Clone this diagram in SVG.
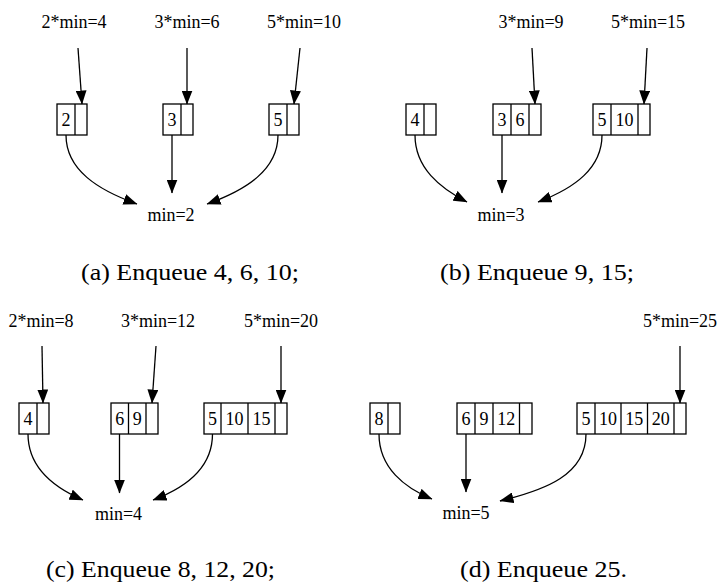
<svg xmlns="http://www.w3.org/2000/svg" width="719" height="585" viewBox="0 0 719 585">
<style>
.box{fill:none;stroke:#000;stroke-width:1.3}
.t{font-size:18px;fill:#000;text-anchor:middle}
.cap{font-size:24px;fill:#000}
.e{fill:none;stroke:#000;stroke-width:1.3;marker-end:url(#ah)}
</style>
<defs>
<marker id="ah" viewBox="0 0 14 11" refX="13.5" refY="5.5" markerWidth="14" markerHeight="11" markerUnits="userSpaceOnUse" orient="auto">
<path d="M0,0 L14,5.5 L0,11 z" fill="#000"/>
</marker>
</defs>
<rect width="719" height="585" fill="#fff"/>

<g id="connectors">
<path class="e" d="M78,48 L82,104"/>
<path class="e" d="M187,48 L187,104"/>
<path class="e" d="M300,48 L294,104"/>
<path class="e" d="M66,135 C66,170 98,190 137,204"/>
<path class="e" d="M172,135 L172,193"/>
<path class="e" d="M278,135 C278,170 246,190 207,204"/>
<path class="e" d="M532,48 L535,104"/>
<path class="e" d="M647,48 L644,104"/>
<path class="e" d="M415,135 C415,168 440,188 467,202"/>
<path class="e" d="M502,135 L502,193"/>
<path class="e" d="M602,135 C602,168 575,188 538,202"/>
<path class="e" d="M42,346 L43,403"/>
<path class="e" d="M156,346 L152,403"/>
<path class="e" d="M281,346 L281,403"/>
<path class="e" d="M28,434 C28,468 55,488 83,500"/>
<path class="e" d="M119.5,434 L119.5,493"/>
<path class="e" d="M212.5,434 C212.5,468 185,488 153,500"/>
<path class="e" d="M680,346 L680,403"/>
<path class="e" d="M379,434 C379,468 405,488 432,499"/>
<path class="e" d="M466,434 L466,492"/>
<path class="e" d="M586,434 C586,475 545,490 500,501"/>
</g>

<g font-family="Liberation Serif, Times New Roman, serif">
<g id="la1"><text class="t" x="74" y="28">2*min=4</text></g>
<g id="la2"><text class="t" x="187" y="28">3*min=6</text></g>
<g id="la3"><text class="t" x="304" y="28">5*min=10</text></g>
<g id="qa2"><rect class="box" x="57" y="104" width="30" height="31"/><line class="box" x1="75" y1="104" x2="75" y2="135"/><text class="t" x="66" y="126">2</text></g>
<g id="qa3"><rect class="box" x="163" y="104" width="30" height="31"/><line class="box" x1="181" y1="104" x2="181" y2="135"/><text class="t" x="172" y="126">3</text></g>
<g id="qa5"><rect class="box" x="269" y="104" width="30" height="31"/><line class="box" x1="287" y1="104" x2="287" y2="135"/><text class="t" x="278" y="126">5</text></g>
<g id="mina"><text class="t" x="171" y="221">min=2</text></g>
<g id="capa"><text class="cap" x="81" y="280" textLength="218" lengthAdjust="spacingAndGlyphs">(a) Enqueue 4, 6, 10;</text></g>

<g id="lb2"><text class="t" x="531" y="28">3*min=9</text></g>
<g id="lb3"><text class="t" x="648" y="28">5*min=15</text></g>
<g id="qb4"><rect class="box" x="406" y="104" width="30" height="31"/><line class="box" x1="424" y1="104" x2="424" y2="135"/><text class="t" x="415" y="126">4</text></g>
<g id="qb36"><rect class="box" x="493" y="104" width="48" height="31"/><line class="box" x1="511" y1="104" x2="511" y2="135"/><line class="box" x1="529" y1="104" x2="529" y2="135"/><text class="t" x="502" y="126">3</text><text class="t" x="520" y="126">6</text></g>
<g id="qb510"><rect class="box" x="593" y="104" width="57" height="31"/><line class="box" x1="611" y1="104" x2="611" y2="135"/><line class="box" x1="638" y1="104" x2="638" y2="135"/><text class="t" x="602" y="126">5</text><text class="t" x="624.5" y="126">10</text></g>
<g id="minb"><text class="t" x="501" y="221">min=3</text></g>
<g id="capb"><text class="cap" x="440" y="280" textLength="194" lengthAdjust="spacingAndGlyphs">(b) Enqueue 9, 15;</text></g>

<g id="lc1"><text class="t" x="41" y="327">2*min=8</text></g>
<g id="lc2"><text class="t" x="158" y="327">3*min=12</text></g>
<g id="lc3"><text class="t" x="281" y="327">5*min=20</text></g>
<g id="qc4"><rect class="box" x="19" y="403" width="30" height="31"/><line class="box" x1="37" y1="403" x2="37" y2="434"/><text class="t" x="28" y="425">4</text></g>
<g id="qc69"><rect class="box" x="111" y="403" width="47" height="31"/><line class="box" x1="128.5" y1="403" x2="128.5" y2="434"/><line class="box" x1="146" y1="403" x2="146" y2="434"/><text class="t" x="119.75" y="425">6</text><text class="t" x="137.25" y="425">9</text></g>
<g id="qc51015"><rect class="box" x="204" y="403" width="83" height="31"/><line class="box" x1="221" y1="403" x2="221" y2="434"/><line class="box" x1="248" y1="403" x2="248" y2="434"/><line class="box" x1="275" y1="403" x2="275" y2="434"/><text class="t" x="212.5" y="425">5</text><text class="t" x="234.5" y="425">10</text><text class="t" x="261.5" y="425">15</text></g>
<g id="minc"><text class="t" x="118.5" y="520">min=4</text></g>
<g id="capc"><text class="cap" x="46" y="577" textLength="229" lengthAdjust="spacingAndGlyphs">(c) Enqueue 8, 12, 20;</text></g>

<g id="ld3"><text class="t" x="680" y="327">5*min=25</text></g>
<g id="qd8"><rect class="box" x="370" y="403" width="30" height="31"/><line class="box" x1="388" y1="403" x2="388" y2="434"/><text class="t" x="379" y="425">8</text></g>
<g id="qd6912"><rect class="box" x="457" y="403" width="75" height="31"/><line class="box" x1="475" y1="403" x2="475" y2="434"/><line class="box" x1="493" y1="403" x2="493" y2="434"/><line class="box" x1="519.5" y1="403" x2="519.5" y2="434"/><text class="t" x="466" y="425">6</text><text class="t" x="484" y="425">9</text><text class="t" x="506.25" y="425">12</text></g>
<g id="qd5101520"><rect class="box" x="577" y="403" width="109" height="31"/><line class="box" x1="595" y1="403" x2="595" y2="434"/><line class="box" x1="621" y1="403" x2="621" y2="434"/><line class="box" x1="647.5" y1="403" x2="647.5" y2="434"/><line class="box" x1="674" y1="403" x2="674" y2="434"/><text class="t" x="586" y="425">5</text><text class="t" x="608" y="425">10</text><text class="t" x="634.25" y="425">15</text><text class="t" x="660.75" y="425">20</text></g>
<g id="mind"><text class="t" x="466" y="519">min=5</text></g>
<g id="capd"><text class="cap" x="460" y="577" textLength="167" lengthAdjust="spacingAndGlyphs">(d) Enqueue 25.</text></g>
</g>
</svg>
